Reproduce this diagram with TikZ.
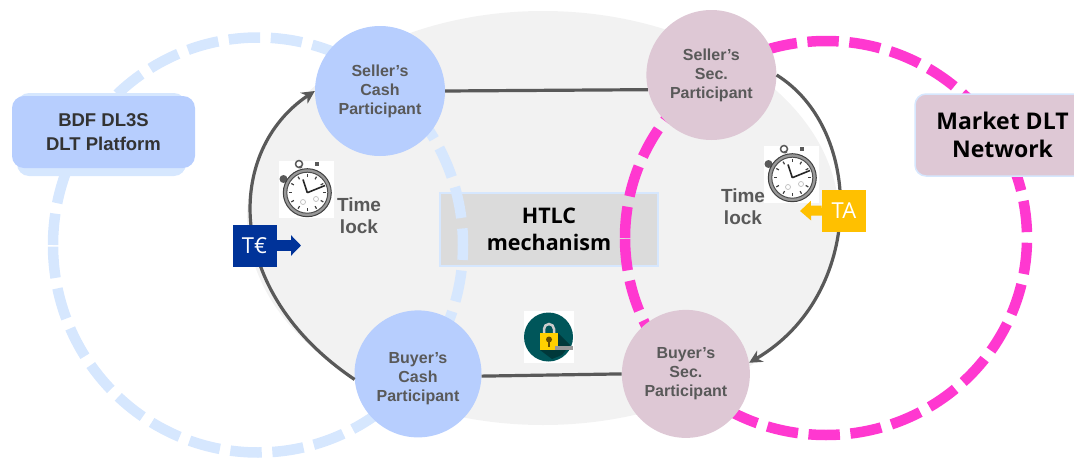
\documentclass[tikz,border=0pt]{standalone}
\usepackage{fontspec}
\setmainfont{Liberation Sans}
\newfontfamily\humanFont{Open Sans}
\usepackage[HTML]{xcolor}
\usetikzlibrary{positioning, calc, arrows.meta}

\definecolor{ringBlue}{HTML}{D6E7FE}
\definecolor{ringPink}{HTML}{FF38D0}
\definecolor{cashBlue}{HTML}{B7CEFE}
\definecolor{secPink}{HTML}{DEC8D5}
\definecolor{textGray}{HTML}{595959}
\definecolor{navyBox}{HTML}{003399}
\definecolor{goldBox}{HTML}{FFC000}
\definecolor{lockTeal}{HTML}{00565A}

\tikzset{
    participant/.style={circle, minimum size=130pt, inner sep=0pt, align=center,
        font=\fontsize{16}{19}\selectfont\bfseries, text=textGray},
    ring/.style={line width=10.5pt},
    link/.style={draw=textGray, line width=3.2pt},
    timeLabel/.style={align=center, font=\fontsize{19}{22}\selectfont\bfseries, text=textGray},
    tokenBox/.style={minimum width=44pt, minimum height=42pt, inner sep=0pt, text=white,
        font=\humanFont\fontsize{22}{26}\selectfont},
    pics/stopwatch/.style={code={
        \fill[white] (-27,-29) rectangle (28,28);
        \draw[black!65, line width=1.5pt] (-7,-26) circle (3.5pt);
        \draw[black!65, line width=2.5pt] (-5,-22) -- (-6,-24);
        \fill[black!65] (8.5,-28.5) rectangle (13,-24);
        \fill[black!65] (-22.5,-11) circle (4pt);
        \draw[black!75, fill=black!40, line width=1pt] (1.3,2.7) circle (24pt);
        \draw[black!70, fill=white, line width=1pt] (1.3,2.7) circle (20.5pt);
        \foreach \tickAngle in {0,30,...,330}
            \draw[black!75, line width=1.2pt] ($(1.3,2.7)+(\tickAngle:15.5pt)$) -- ($(1.3,2.7)+(\tickAngle:18.5pt)$);
        \draw[black!25, line width=0.7pt] (-3,12) circle (2.5pt);
        \draw[black!25, line width=0.7pt] (10,9) circle (2.5pt);
        \draw[black!85, line width=1.6pt] (1.3,2.7) -- (-3,-10.5);
        \draw[black!85, line width=1.6pt] (1.3,2.7) -- (19,-4.5);
    }}
}

\begin{document}
\begin{tikzpicture}[x=1pt, y=-1pt, >=Stealth]
    \useasboundingbox (0,0) rectangle (1074,458);

    % Define background
    \fill[black!5] (543,218) ellipse [x radius=296, y radius=207];

    % Define boxes
    \node (htlcBox) [draw=ringBlue, fill=black!14, line width=1.5pt, minimum width=218pt, minimum height=73pt,
        inner sep=0pt, align=center, font=\humanFont\bfseries\fontsize{21.5}{27}\selectfont, text=black] at (549,229.5)
        {HTLC\\mechanism};

    % Draw rings
    \draw[ring, ringBlue, dash pattern=on 31.5pt off 10.6pt] (53,245) arc [start angle=180, delta angle=360, x radius=205, y radius=207.5];
    \draw[ring, ringPink, dash pattern=on 31.4pt off 10.6pt] (625,238) arc [start angle=180, delta angle=360, x radius=201, y radius=197];

    % Define participants
    \node (sellerCash) [participant, fill=cashBlue] at (380,91) {Seller's\\Cash\\Participant};
    \node (sellerSec) [participant, fill=secPink, right=201pt of sellerCash, yshift=16pt] {Seller's\\Sec.\\Participant};
    \node (buyerCash) [participant, minimum size=127pt, fill=cashBlue, below=154pt of sellerCash, xshift=38pt] {\rule{0pt}{20pt}Buyer's\\Cash\\Participant};
    \node (buyerSec) [participant, minimum size=128pt, fill=secPink, right=140pt of buyerCash] {Buyer's\\Sec.\\Participant};

    % Draw arrows
    \draw[link] (sellerCash.east) -- (sellerSec.193);
    \draw[link] (buyerCash.-2) -- (buyerSec.west);
    \draw[link, -{Stealth[length=13pt, width=13pt]}] (buyerCash.185) .. controls (222,290) and (226,150) .. (sellerCash.180);
    \draw[link, -{Stealth[length=13pt, width=13pt]}] (sellerSec.0) .. controls (865,130) and (865,295) .. (buyerSec.10);

    % Platform boxes
    \fill[ringBlue, rounded corners=12pt] (17,93) rectangle (186,176);
    \node (bdfBox) [fill=cashBlue, rounded corners=12pt, minimum width=183pt, minimum height=72pt, inner sep=0pt,
        align=center, font=\fontsize{18.5}{24}\selectfont\bfseries, text=black!80] at (103.5,132)
        {BDF DL3S\\DLT Platform};
    \node (marketBox) [draw=ringBlue, fill=secPink, line width=1.5pt, rounded corners=11pt, minimum width=175pt,
        minimum height=82pt, inner sep=0pt, align=center, font=\humanFont\bfseries\fontsize{23}{28}\selectfont,
        text=black] at (1002.5,135) {Market DLT\\Network};

    % Time locks
    \pic at (306,190) {stopwatch};
    \pic at (791,175) {stopwatch};
    \node (leftLock) [timeLabel] at (359,216) {Time\\lock};
    \node (rightLock) [timeLabel] at (743,207) {Time\\lock};

    % Tokens
    \node (cashToken) [tokenBox, fill=navyBox] at (254.5,245.5) {T€};
    \coordinate (cashTip) at (301,245.5);
    \draw[navyBox, line width=11pt, -{Triangle[length=10pt, width=20pt]}] (cashToken.east) -- (cashTip);
    \node (secToken) [tokenBox, fill=goldBox] at (844,210.5) {TA};
    \coordinate (secTip) at (800,211);
    \draw[goldBox, line width=10pt, -{Triangle[length=11pt, width=19pt]}] (secToken.west) -- (secTip);

    % Padlock
    \node (lockBack) [fill=white, minimum width=50pt, minimum height=52pt, inner sep=0pt] at (549,337) {};
    \node (lockDisc) [circle, fill=lockTeal, minimum size=49pt, inner sep=0pt] at (548.5,337) {};
    \fill[black!35!lockTeal] (558,333) -- (570,345) -- (562,355) -- (552,359) -- (540,350) -- cycle;
    \draw[black!20, line width=2.5pt] (544,334) -- (544,329) arc[start angle=180, end angle=360, radius=5] -- (554,334);
    \fill[goldBox!75!yellow] (540,333) rectangle (558,350);
    \fill[black!40] (555,345.5) rectangle (573,350);
    \fill[black!60!goldBox] (549,339.5) circle (3pt);
    \fill[black!60!goldBox] (547.7,340) rectangle (550.3,347);
\end{tikzpicture}
\end{document}
